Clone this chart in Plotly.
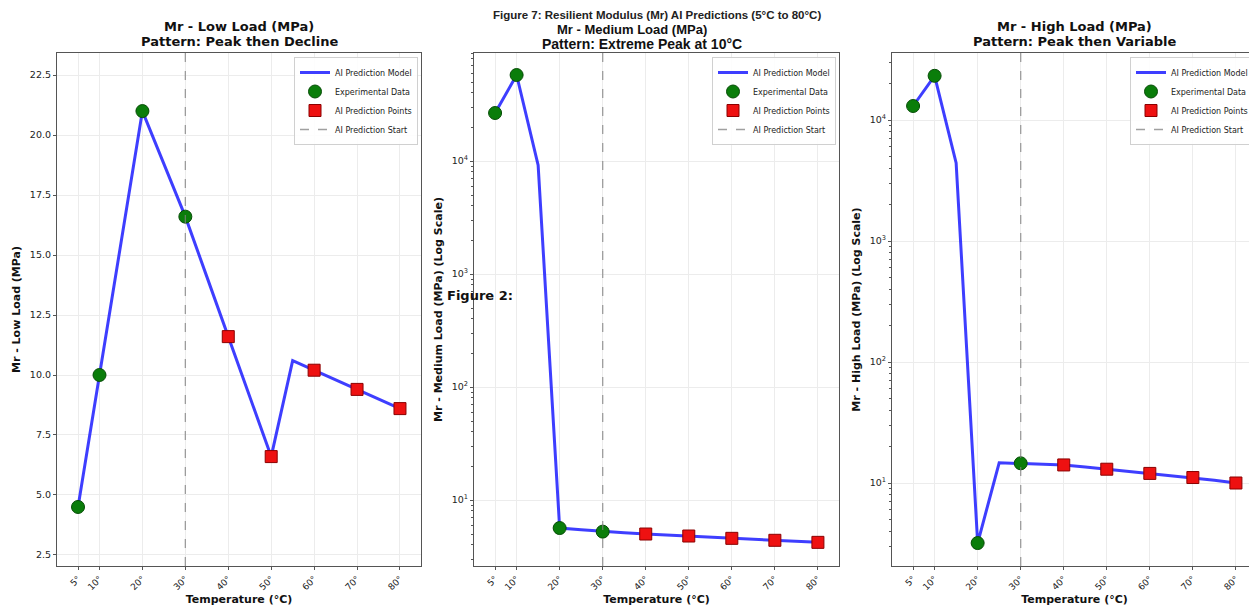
import plotly.graph_objects as go

# ---------------- data ----------------
model_temps = [5, 10, 15, 20, 25, 30, 35, 40, 45, 50, 55, 60, 65, 70, 75, 80]
low_model = [4.5, 10.0, 15.5, 21.0, 18.8, 16.6, 14.1, 11.6, 9.1, 6.6, 10.6, 10.2, 9.8, 9.4, 9.0, 8.6]
medium_model = [26600, 57700, 9200, 5.65, 5.45, 5.25, 5.12, 5.0, 4.9, 4.8, 4.69, 4.58, 4.49, 4.4, 4.31, 4.22]
high_model = [13060, 23200, 4420, 3.19, 14.7, 14.55, 14.3, 14.1, 13.55, 13.0, 12.5, 12.0, 11.55, 11.1, 10.55, 10.0]

exp_temps = [5, 10, 20, 30]
low_exp = [4.5, 10.0, 21.0, 16.6]
medium_exp = [26600, 57700, 5.65, 5.25]
high_exp = [13060, 23200, 3.19, 14.55]

pred_temps = [40, 50, 60, 70, 80]
low_pred = [11.6, 6.6, 10.2, 9.4, 8.6]
medium_pred = [5.0, 4.8, 4.58, 4.4, 4.22]
high_pred = [14.1, 13.0, 12.0, 11.1, 10.0]

prediction_start = 30

x_tickvals = [5, 10, 20, 30, 40, 50, 60, 70, 80]
x_ticktext = ["5°", "10°", "20°", "30°", "40°", "50°", "60°", "70°", "80°"]
log_tickvals = [10, 100, 1000, 10000]
log_ticktext = ["10<sup>1</sup>", "10<sup>2</sup>", "10<sup>3</sup>", "10<sup>4</sup>"]

# page body has an 8px margin: map screenshot pixel coords to figure fractions
OFF = 8
W, H = 1249, 601


def fx(px):
    return (px - OFF) / W


def fy(py):
    return 1 - (py - OFF) / H


panels = [
    dict(model=low_model, exp=low_exp, pred=low_pred,
         title1="Mr - Low Load (MPa)", title2="Pattern: Peak then Decline",
         ytitle="Mr - Low Load (MPa)", log=False, yrange=[2.04, 23.42],
         left=57, right=421),
    dict(model=medium_model, exp=medium_exp, pred=medium_pred,
         title1="Mr - Medium Load (MPa)", title2="Pattern: Extreme Peak at 10°C",
         ytitle="Mr - Medium Load (MPa) (Log Scale)", log=True, yrange=[0.416, 4.956],
         left=474, right=839),
    dict(model=high_model, exp=high_exp, pred=high_pred,
         title1="Mr - High Load (MPa)", title2="Pattern: Peak then Variable",
         ytitle="Mr - High Load (MPa) (Log Scale)", log=True, yrange=[0.314, 4.554],
         left=892, right=1257),
]

ydom = [fy(566), fy(53)]
AX = "#555555"
GRID = "#ececec"
TICKFONT = dict(family="DejaVu Sans", size=9.5, color="#222")

fig = go.Figure()
layout = dict(
    width=W, height=H, margin=dict(l=0, r=0, t=0, b=0),
    paper_bgcolor="white", plot_bgcolor="white",
    font=dict(family="DejaVu Sans", color="#111"),
    annotations=[], shapes=[],
)

for i, p in enumerate(panels):
    n = "" if i == 0 else str(i + 1)
    xa, ya = "x" + n, "y" + n
    leg = "legend" + n
    fig.add_trace(go.Scatter(x=model_temps, y=p["model"], mode="lines", name="AI Prediction Model",
                             line=dict(color="rgba(20,20,255,0.82)", width=3),
                             xaxis=xa, yaxis=ya, legend=leg))
    fig.add_trace(go.Scatter(x=exp_temps, y=p["exp"], mode="markers", name="Experimental Data",
                             marker=dict(symbol="circle", size=13, color="#0a7d0a",
                                         line=dict(color="#064d06", width=1)),
                             xaxis=xa, yaxis=ya, legend=leg))
    fig.add_trace(go.Scatter(x=pred_temps, y=p["pred"], mode="markers", name="AI Prediction Points",
                             marker=dict(symbol="square", size=12, color="#ee1111",
                                         line=dict(color="#8b0000", width=1)),
                             xaxis=xa, yaxis=ya, legend=leg))
    fig.add_shape(type="line", x0=prediction_start, x1=prediction_start, y0=0, y1=1,
                  xref=xa, yref=ya + " domain",
                  line=dict(color="rgba(128,128,128,0.75)", width=1.3, dash="dash"),
                  showlegend=True, name="AI Prediction Start", legend=leg)

    dom = [fx(p["left"]), min(1.0, fx(p["right"]))]
    xkey = "xaxis" + n
    ykey = "yaxis" + n
    layout[xkey] = dict(
        domain=dom, anchor=ya, range=[0.1, 84.9],
        tickvals=x_tickvals, ticktext=x_ticktext, tickangle=-45,
        tickfont=dict(family="DejaVu Sans", size=9, color="#222"),
        ticks="outside", ticklen=3, tickcolor=AX,
        showline=True, linecolor=AX, linewidth=1.2, mirror=True,
        showgrid=True, gridcolor=GRID, gridwidth=1, zeroline=False,
        title=dict(text="<b>Temperature (°C)</b>", font=dict(family="DejaVu Sans", size=11, color="#111"),
                   standoff=4),
        automargin=False,
    )
    yd = dict(
        domain=ydom, anchor=xa, range=p["yrange"],
        ticks="outside", ticklen=3, tickcolor=AX, tickfont=TICKFONT,
        showline=True, linecolor=AX, linewidth=1.2, mirror=True,
        showgrid=True, gridcolor=GRID, gridwidth=1, zeroline=False,
        title=dict(text="<b>" + p["ytitle"] + "</b>", font=dict(family="DejaVu Sans", size=11, color="#111"),
                   standoff=6),
        automargin=False,
    )
    if p["log"]:
        yd.update(type="log", tickvals=log_tickvals, ticktext=log_ticktext,
                  minor=dict(ticks="outside", ticklen=2, tickcolor=AX, showgrid=False, dtick="D1"))
    else:
        yd.update(tick0=2.5, dtick=2.5, tickformat=".1f")
    layout[ykey] = yd

    layout[leg] = dict(
        x=min(1.0, fx(p["right"] - 3)), y=fy(57), xanchor="right", yanchor="top",
        xref="paper", yref="paper",
        bgcolor="rgba(255,255,255,0.9)", bordercolor="#d0d0d0", borderwidth=1,
        font=dict(family="DejaVu Sans", size=8, color="#222"),
        tracegroupgap=0, itemwidth=30,
    )

    cx = fx((p["left"] + p["right"]) / 2)
    if i == 1:
        layout["annotations"].append(dict(
            text="<b>" + p["title1"] + "</b>", x=fx(632), y=fy(30),
            xref="paper", yref="paper", xanchor="center", yanchor="middle", showarrow=False,
            font=dict(family="Liberation Sans", size=13, color="#111")))
        layout["annotations"].append(dict(
            text="<b>" + p["title2"] + "</b>", x=fx(642), y=fy(44),
            xref="paper", yref="paper", xanchor="center", yanchor="middle", showarrow=False,
            font=dict(family="Liberation Sans", size=14, color="#111")))
    else:
        layout["annotations"].append(dict(
            text="<b>" + p["title1"] + "</b>", x=cx, y=fy(27),
            xref="paper", yref="paper", xanchor="center", yanchor="middle", showarrow=False,
            font=dict(family="DejaVu Sans", size=13, color="#111")))
        layout["annotations"].append(dict(
            text="<b>" + p["title2"] + "</b>", x=cx, y=fy(42),
            xref="paper", yref="paper", xanchor="center", yanchor="middle", showarrow=False,
            font=dict(family="DejaVu Sans", size=13, color="#111")))

layout["annotations"].append(dict(
    text="<b>Figure 7: Resilient Modulus (Mr) AI Predictions (5°C to 80°C)</b>",
    x=fx(657), y=fy(15), xref="paper", yref="paper", xanchor="center", yanchor="middle",
    showarrow=False, font=dict(family="Liberation Sans", size=11.5, color="#222")))
layout["annotations"].append(dict(
    text="<b>Figure 2:</b>", x=fx(445), y=fy(295), xref="paper", yref="paper",
    xanchor="left", yanchor="middle", showarrow=False,
    font=dict(family="DejaVu Sans", size=13, color="#111")))

fig.update_layout(**layout)
fig.write_html("out.html")
